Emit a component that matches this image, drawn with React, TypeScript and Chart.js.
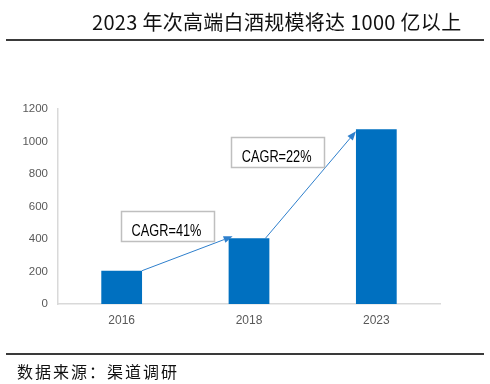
import React, { useEffect, useRef } from "react";
import { Chart, registerables } from "chart.js";

Chart.register(...registerables);

const categories = ["2016", "2018", "2023"];
const values = [205, 404, 1075];
const yTicks = [0, 200, 400, 600, 800, 1000, 1200];
const cagrLabels = ["CAGR=41%", "CAGR=22%"];
// box centers in data space: [category index, value]
const cagrBoxPos = [
  [0.36, 480],
  [1.225, 935],
];

const title = "2023 年次高端白酒规模将达 1000 亿以上";
const source = "数据来源：渠道调研";

const annotationPlugin = {
  id: "cagrAnnotations",
  afterDatasetsDraw(chart: any) {
    const ctx = chart.ctx;
    const meta = chart.getDatasetMeta(0);
    const bars = meta.data;
    const xs = chart.scales.x;
    const ys = chart.scales.y;
    const drawArrow = (x1: number, y1: number, x2: number, y2: number) => {
      ctx.save();
      ctx.strokeStyle = "#2E7FCC";
      ctx.fillStyle = "#2E7FCC";
      ctx.lineWidth = 1;
      const ang = Math.atan2(y2 - y1, x2 - x1);
      const len = 9;
      const hw = 3.5;
      const bx = x2 - len * Math.cos(ang);
      const by = y2 - len * Math.sin(ang);
      ctx.beginPath();
      ctx.moveTo(x1, y1);
      ctx.lineTo(bx, by);
      ctx.stroke();
      ctx.beginPath();
      ctx.moveTo(x2, y2);
      ctx.lineTo(bx + hw * Math.sin(ang), by - hw * Math.cos(ang));
      ctx.lineTo(bx - hw * Math.sin(ang), by + hw * Math.cos(ang));
      ctx.closePath();
      ctx.fill();
      ctx.restore();
    };
    for (let i = 0; i < bars.length - 1; i++) {
      const a = bars[i];
      const b = bars[i + 1];
      const wa = a.width / 2;
      const wb = b.width / 2;
      const x1 = i === 0 ? a.x + wa : a.x + wa - 4;
      const x2 = i === 0 ? b.x - wb + 4 : b.x - wb;
      drawArrow(x1, a.y, x2, b.y + (i === 0 ? -2 : 2));
    }
    ctx.save();
    cagrLabels.forEach((lab, i) => {
      const [ci, v] = cagrBoxPos[i];
      const x0 = xs.getPixelForValue(0);
      const x1 = xs.getPixelForValue(1);
      const cx = x0 + (x1 - x0) * ci;
      const cy = ys.getPixelForValue(v);
      const w = 93;
      const h = 30;
      ctx.fillStyle = "#ffffff";
      ctx.fillRect(cx - w / 2, cy - h / 2, w, h);
      ctx.strokeStyle = "#BFBFBF";
      ctx.lineWidth = 1.5;
      ctx.strokeRect(Math.round(cx - w / 2) + 0.5, Math.round(cy - h / 2) + 0.5, w, h);
      ctx.save();
      ctx.translate(cx - 1, cy + 5);
      ctx.scale(0.75, 1);
      ctx.fillStyle = "#000000";
      ctx.font = "17px 'Liberation Sans', sans-serif";
      ctx.textAlign = "center";
      ctx.textBaseline = "middle";
      ctx.fillText(lab, 0, 0);
      ctx.restore();
    });
    ctx.restore();
  },
};

export default function App() {
  const ref = useRef<HTMLCanvasElement>(null);
  useEffect(() => {
    document.body.style.margin = "0";
    if (!ref.current) return;
    const chart = new Chart(ref.current, {
      type: "bar",
      data: {
        labels: categories,
        datasets: [
          {
            data: values,
            backgroundColor: "#0070C0",
            barPercentage: 0.64,
            categoryPercentage: 0.5,
          },
        ],
      },
      options: {
        animation: false,
        responsive: false,
        maintainAspectRatio: false,
        layout: { padding: { left: 0, top: 109, right: 50, bottom: 0 } },
        plugins: { legend: { display: false }, tooltip: { enabled: false } },
        scales: {
          x: {
            grid: { display: false, drawTicks: false },
            border: { color: "#D9D9D9", width: 1.5 },
            ticks: {
              color: "#595959",
              padding: 9,
              font: { family: "'Liberation Sans', sans-serif", size: 12 },
            },
            afterFit: (s: any) => {
              s.height = 80;
            },
          },
          y: {
            min: 0,
            max: 1200,
            afterBuildTicks: (s: any) => {
              s.ticks = yTicks.map((v) => ({ value: v }));
            },
            grid: { display: false, drawTicks: false },
            border: { color: "#D9D9D9", width: 1.5 },
            ticks: {
              color: "#595959",
              padding: 10,
              font: { family: "'Liberation Sans', sans-serif", size: 11.5 },
              callback: (v: any) => String(v),
            },
            afterFit: (s: any) => {
              s.width = 58;
            },
          },
        },
      },
      plugins: [annotationPlugin],
    });
    return () => chart.destroy();
  }, []);

  return (
    <div style={{ position: "relative", width: 490, height: 384, background: "#fff", overflow: "hidden" }}>
      <canvas ref={ref} width={490} height={384} style={{ position: "absolute", left: 0, top: 0 }} />
      <div
        style={{
          position: "absolute",
          left: 92,
          top: 9,
          fontFamily: "'Noto Sans CJK SC', sans-serif",
          fontSize: 20,
          lineHeight: "26px",
          letterSpacing: 0.3,
          color: "#111",
          whiteSpace: "nowrap",
        }}
      >
        {title}
      </div>
      <div style={{ position: "absolute", left: 6, top: 39, width: 478, height: 2, background: "#3a3a3a" }} />
      <div style={{ position: "absolute", left: 6, top: 353, width: 478, height: 2, background: "#3a3a3a" }} />
      <div
        style={{
          position: "absolute",
          left: 17,
          top: 360,
          fontFamily: "'Noto Sans CJK SC', sans-serif",
          fontSize: 16,
          lineHeight: "22px",
          color: "#111",
          letterSpacing: 2,
          whiteSpace: "nowrap",
        }}
      >
        {source}
      </div>
    </div>
  );
}
